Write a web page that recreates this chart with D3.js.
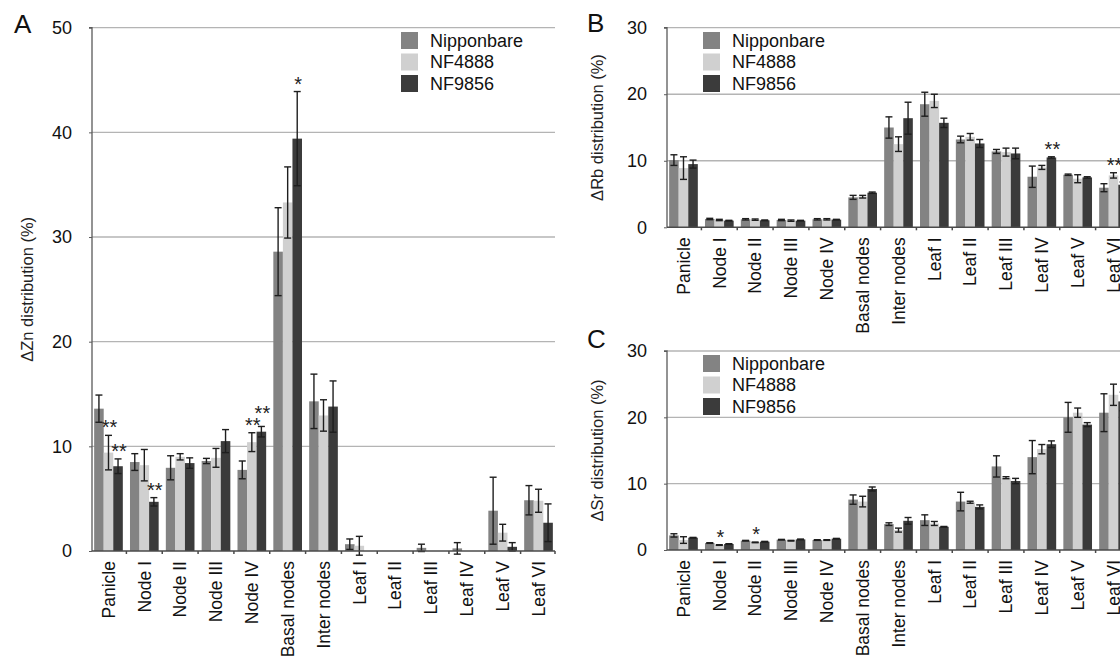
<!DOCTYPE html>
<html>
<head>
<meta charset="utf-8">
<script src="https://cdn.jsdelivr.net/npm/d3@7"></script>
<style>
  body { margin: 0; background: #fff; }
  svg { display: block; font-family: "Liberation Sans", Arial, sans-serif; overflow: hidden; }
</style>
</head>
<body>
<div class="chart"></div>
<script>
const categories = ["Panicle", "Node I", "Node II", "Node III", "Node IV", "Basal nodes", "Inter nodes",
  "Leaf I", "Leaf II", "Leaf III", "Leaf IV", "Leaf V", "Leaf VI"];
const cultivars = ["Nipponbare", "NF4888", "NF9856"];

// panel A: Zn
const znNip = [13.6, 8.5, 7.95, 8.6, 7.75, 28.6, 14.3, 0.65, 0, 0.3, 0.25, 3.85, 4.85];
const znNipErr = [1.3, 0.8, 1.15, 0.25, 0.85, 4.2, 2.6, 0.5, 0, 0.35, 0.55, 3.2, 1.4];
const znNF4888 = [9.4, 8.2, 9.0, 8.9, 10.4, 33.3, 12.95, 0.5, 0, 0, 0, 1.75, 4.8];
const znNF4888Err = [1.65, 1.5, 0.3, 0.9, 0.9, 3.4, 1.5, 0.9, 0, 0, 0, 0.8, 1.1];
const znNF9856 = [8.1, 4.7, 8.4, 10.5, 11.4, 39.4, 13.8, 0, 0, 0, 0, 0.4, 2.7];
const znNF9856Err = [0.7, 0.4, 0.5, 1.1, 0.5, 4.5, 2.45, 0, 0, 0, 0, 0.4, 1.8];

// panel B: Rb
const rbNip = [10.1, 1.25, 1.2, 1.1, 1.2, 4.5, 15.0, 18.5, 13.2, 11.4, 7.6, 7.9, 5.95];
const rbNipErr = [0.8, 0.1, 0.1, 0.1, 0.1, 0.3, 1.6, 1.8, 0.5, 0.3, 1.6, 0.1, 0.6];
const rbNF4888 = [8.9, 1.1, 1.15, 1.0, 1.2, 4.6, 12.5, 19.0, 13.6, 11.3, 9.0, 7.3, 7.8];
const rbNF4888Err = [1.7, 0.1, 0.1, 0.1, 0.1, 0.2, 1.1, 1.0, 0.5, 0.6, 0.3, 0.6, 0.4];
const rbNF9856 = [9.5, 1.0, 1.05, 1.0, 1.15, 5.2, 16.4, 15.7, 12.6, 11.1, 10.5, 7.5, 6.4];
const rbNF9856Err = [0.6, 0.05, 0.05, 0.05, 0.05, 0.1, 2.4, 0.7, 0.6, 0.8, 0.1, 0.1, 0.4];

// panel C: Sr
const srNip = [2.2, 1.05, 1.4, 1.55, 1.5, 7.6, 3.9, 4.5, 7.3, 12.6, 14.0, 20.0, 20.7];
const srNipErr = [0.25, 0.05, 0.05, 0.05, 0.05, 0.7, 0.2, 0.8, 1.4, 1.6, 2.5, 2.25, 2.85];
const srNF4888 = [1.5, 0.75, 1.15, 1.4, 1.5, 7.3, 3.0, 4.0, 7.2, 10.9, 15.2, 20.7, 23.4];
const srNF4888Err = [0.5, 0.05, 0.05, 0.05, 0.05, 0.8, 0.3, 0.3, 0.15, 0.15, 0.7, 0.7, 1.6];
const srNF9856 = [1.85, 0.9, 1.25, 1.6, 1.7, 9.2, 4.4, 3.5, 6.5, 10.4, 15.95, 18.9, 22.4];
const srNF9856Err = [0.05, 0.05, 0.05, 0.05, 0.05, 0.3, 0.5, 0.05, 0.3, 0.4, 0.5, 0.3, 1.4];

// significance marks: [category, cultivar, label]
const znSig = [["Panicle", "NF4888", "**"], ["Panicle", "NF9856", "**"], ["Node I", "NF9856", "**"],
  ["Node IV", "NF4888", "**"], ["Node IV", "NF9856", "**"], ["Basal nodes", "NF9856", "*"]];
const rbSig = [["Leaf IV", "NF9856", "**"], ["Leaf VI", "NF4888", "**"]];
const srSig = [["Node I", "NF4888", "*"], ["Node II", "NF4888", "*"]];

const znTicks = [0, 10, 20, 30, 40, 50];
const rbTicks = [0, 10, 20, 30];
const srTicks = [0, 10, 20, 30];

const colors = d3.scaleOrdinal().domain(cultivars).range(["#838383", "#d0d0d0", "#3b3b3b"]);

const svg = d3.select('.chart').append('svg')
  .attr('width', 1120)
  .attr('height', 660);

function panel(opt) {
  const { letter, left, right, top, bottom, ticks, series, errs, sig, title, legendX, legendY, titleX } = opt;
  const g = svg.append('g');

  const x = d3.scaleBand().domain(categories).range([left, right]).paddingInner(0.2).paddingOuter(0.06);
  const xs = d3.scaleBand().domain(cultivars).range([0, x.bandwidth()]);
  const y = d3.scaleLinear().domain([0, d3.max(ticks)]).range([bottom, top]);

  // gridlines
  g.selectAll('.grid').data(ticks.filter(t => t > 0)).enter().append('line')
    .attr('x1', left).attr('x2', right)
    .attr('y1', d => y(d)).attr('y2', d => y(d))
    .attr('stroke', '#b4b4b4').attr('stroke-width', 1.3);

  // bars
  const rows = [];
  categories.forEach((c, i) => cultivars.forEach((s, j) => {
    rows.push({ cat: c, cult: s, v: series[j][i], e: errs[j][i] });
  }));
  g.selectAll('.bar').data(rows).enter().append('rect')
    .attr('x', d => x(d.cat) + xs(d.cult))
    .attr('y', d => y(d.v))
    .attr('width', xs.bandwidth())
    .attr('height', d => y(0) - y(d.v))
    .attr('fill', d => colors(d.cult));

  // error bars
  const eb = g.selectAll('.err').data(rows.filter(d => d.e > 0)).enter().append('g')
    .attr('stroke', '#1e1e1e').attr('stroke-width', 1.4);
  const cx = d => x(d.cat) + xs(d.cult) + xs.bandwidth() / 2;
  eb.append('line').attr('x1', cx).attr('x2', cx)
    .attr('y1', d => y(d.v + d.e)).attr('y2', d => y(d.v - d.e));
  eb.append('line').attr('x1', d => cx(d) - 3.5).attr('x2', d => cx(d) + 3.5)
    .attr('y1', d => y(d.v + d.e)).attr('y2', d => y(d.v + d.e));
  eb.append('line').attr('x1', d => cx(d) - 3.5).attr('x2', d => cx(d) + 3.5)
    .attr('y1', d => y(d.v - d.e)).attr('y2', d => y(d.v - d.e));

  // significance, raised when it would sit level with the previous mark of the same organ
  let prev = null;
  const sigPos = sig.map(d => {
    const i = categories.indexOf(d[0]), j = cultivars.indexOf(d[1]);
    let yy = y(series[j][i] + errs[j][i]) - 1;
    if (prev && prev.cat === d[0] && Math.abs(yy - prev.y) < 12) yy = prev.y - 12;
    prev = { cat: d[0], y: yy };
    return { d, x: x(d[0]) + xs(d[1]) + xs.bandwidth() / 2 + 1, y: yy };
  });
  g.selectAll('.sig').data(sigPos).enter().append('text')
    .attr('x', p => p.x)
    .attr('y', p => p.y)
    .attr('text-anchor', 'middle')
    .attr('font-size', 20)
    .attr('fill', '#222')
    .text(p => p.d[2]);

  // y axis
  const yAxis = d3.axisLeft(y).tickValues(ticks).tickSize(3).tickPadding(17).tickFormat(d3.format('d'));
  const ya = g.append('g').attr('transform', `translate(${left},0)`).call(yAxis);
  ya.select('.domain').attr('stroke', '#5a5a5a').attr('stroke-width', 1.3).attr('d', `M-3,${top}H0V${bottom}`);
  ya.selectAll('.tick line').attr('stroke', '#5a5a5a');
  ya.selectAll('.tick text').attr('font-size', 18).attr('fill', '#111').attr('font-family', null);

  // x axis
  const xa = g.append('g');
  xa.append('line').attr('x1', left).attr('x2', right).attr('y1', bottom).attr('y2', bottom)
    .attr('stroke', '#4a4a4a').attr('stroke-width', 1.5);
  xa.selectAll('.xt').data(categories.slice(1).concat(["end"])).enter().append('line')
    .attr('x1', d => d === "end" ? right : x(d) - x.step() * 0.1)
    .attr('x2', d => d === "end" ? right : x(d) - x.step() * 0.1)
    .attr('y1', bottom).attr('y2', bottom + 3)
    .attr('stroke', '#4a4a4a').attr('stroke-width', 1.5);
  xa.selectAll('.xl').data(categories).enter().append('text')
    .attr('transform', d => `translate(${x(d) + x.bandwidth() / 2},${bottom + 10}) rotate(-90)`)
    .attr('text-anchor', 'end')
    .attr('dy', '0.36em')
    .attr('font-size', 17.5)
    .attr('fill', '#111')
    .text(d => d);

  // y title
  g.append('text')
    .attr('transform', `translate(${titleX},${(top + bottom) / 2}) rotate(-90)`)
    .attr('text-anchor', 'middle')
    .attr('font-size', 16.5)
    .attr('fill', '#222')
    .text(title);

  // panel letter
  g.append('text').attr('x', letter[1]).attr('y', letter[2])
    .attr('font-size', 26).attr('fill', '#111').text(letter[0]);

  // legend
  const lg = g.selectAll('.legend').data(cultivars).enter().append('g')
    .attr('transform', (d, i) => `translate(${legendX},${legendY + i * 21.5})`);
  lg.append('rect').attr('width', 17).attr('height', 17).attr('fill', colors);
  lg.append('text').attr('x', 29).attr('y', 8.5).attr('dy', '0.36em')
    .attr('font-size', 18).attr('fill', '#111').text(d => d);
}

panel({
  letter: ["A", 14, 33], left: 92, right: 555, top: 27.7, bottom: 551, ticks: znTicks,
  series: [znNip, znNF4888, znNF9856], errs: [znNipErr, znNF4888Err, znNF9856Err], sig: znSig,
  title: "ΔZn distribution (%)", titleX: 33, legendX: 401, legendY: 32
});
panel({
  letter: ["B", 587, 32], left: 667, right: 1130, top: 27.7, bottom: 227.3, ticks: rbTicks,
  series: [rbNip, rbNF4888, rbNF9856], errs: [rbNipErr, rbNF4888Err, rbNF9856Err], sig: rbSig,
  title: "ΔRb distribution (%)", titleX: 603, legendX: 703, legendY: 32
});
panel({
  letter: ["C", 587, 348], left: 667, right: 1130, top: 351, bottom: 550, ticks: srTicks,
  series: [srNip, srNF4888, srNF9856], errs: [srNipErr, srNF4888Err, srNF9856Err], sig: srSig,
  title: "ΔSr distribution (%)", titleX: 603, legendX: 703, legendY: 355
});
</script>
</body>
</html>
